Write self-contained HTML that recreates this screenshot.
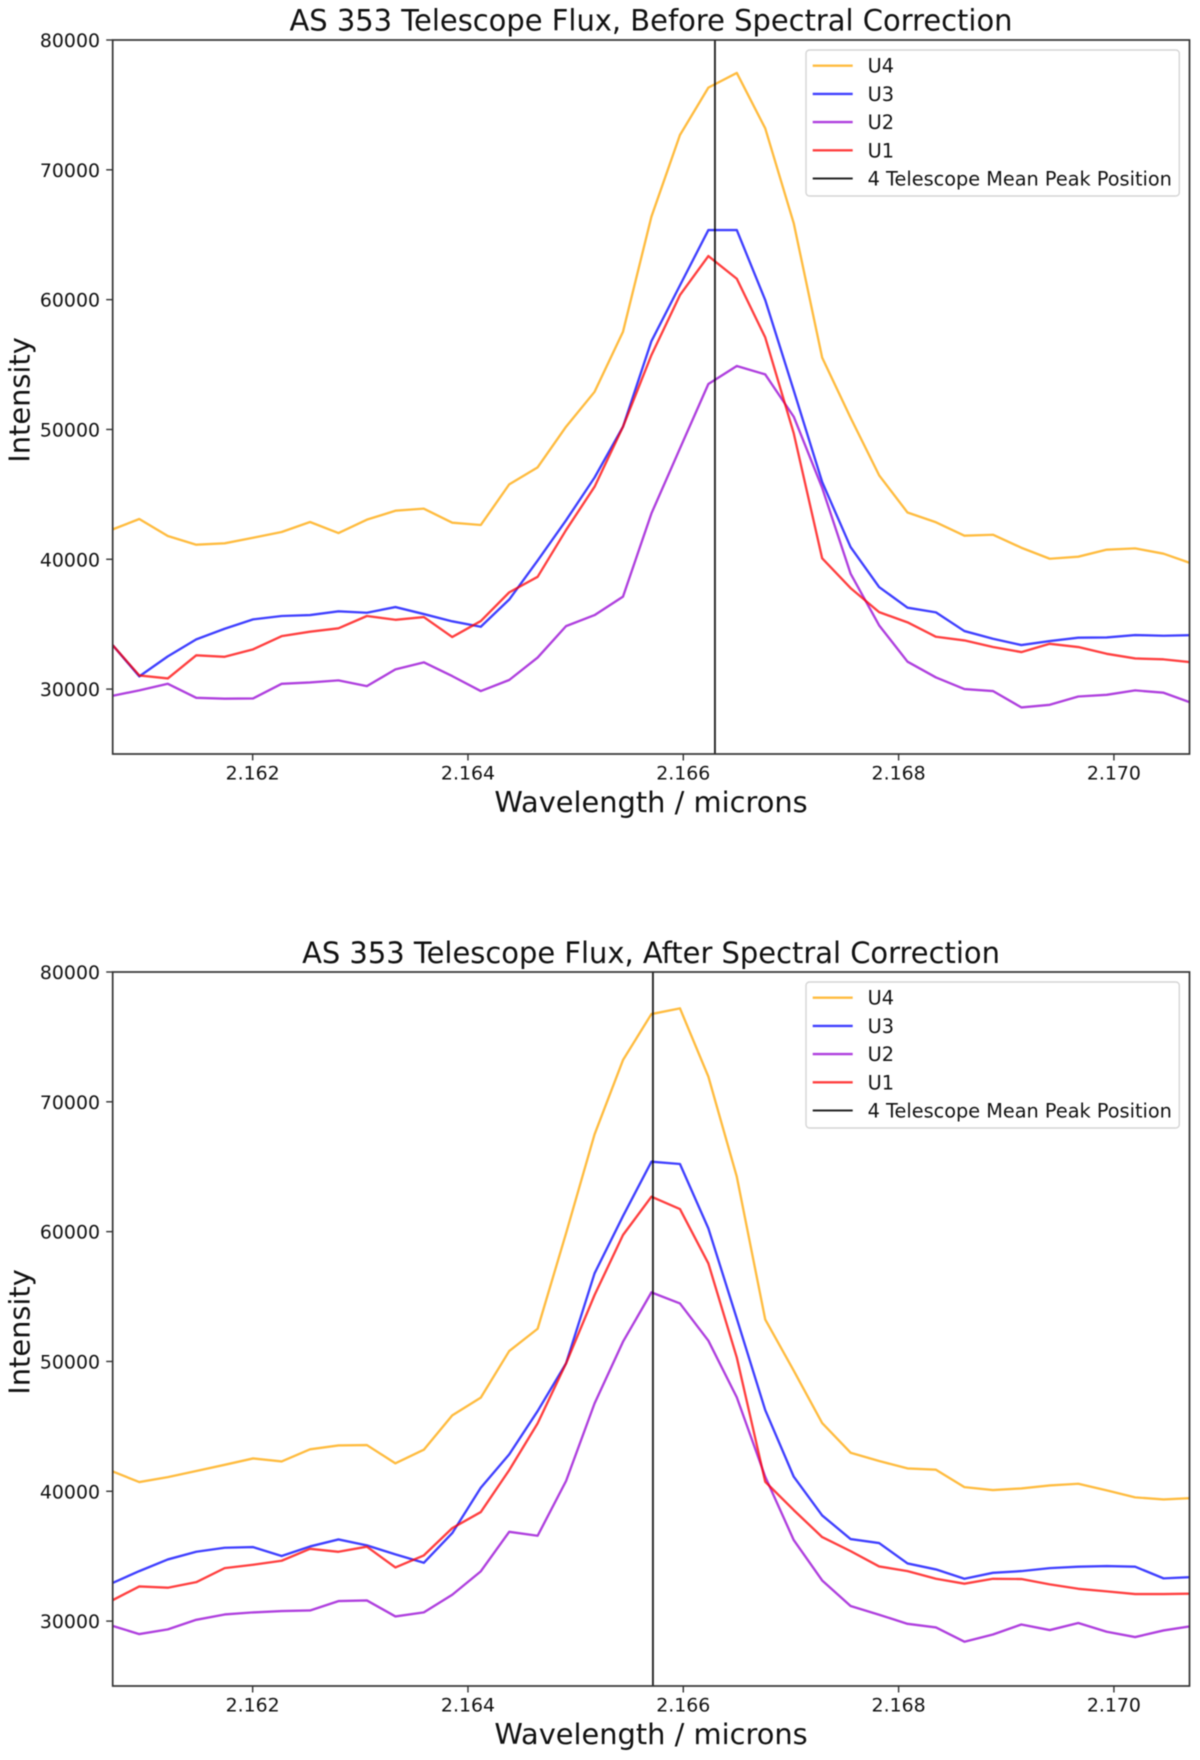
<!DOCTYPE html>
<html lang="en">
<head>
<meta charset="utf-8">
<title>AS 353 Telescope Flux</title>
<style>
  html, body { margin: 0; padding: 0; background: #fff; width: 1200px; height: 1760px; overflow: hidden; }
  svg { display: block; filter: blur(0.4px); }
  text { font-family: "DejaVu Sans", "Liberation Sans", sans-serif; fill: #111; }
</style>
</head>
<body>
<svg id="chart" xmlns="http://www.w3.org/2000/svg" width="1200" height="1760" viewBox="0 0 1200 1760"></svg>
<script>
const wavelengths = [2.160683,2.160947,2.161212,2.161476,2.161740,2.162004,2.162269,2.162533,2.162797,2.163061,2.163326,2.163590,2.163854,2.164119,2.164383,2.164647,2.164911,2.165176,2.165440,2.165704,2.165969,2.166233,2.166497,2.166761,2.167026,2.167290,2.167554,2.167819,2.168083,2.168347,2.168611,2.168876,2.169140,2.169404,2.169669,2.169933,2.170197,2.170461,2.170726];

const beforeU4 = [42250,43100,41790,41120,41230,41660,42100,42870,42020,43050,43740,43900,42820,42640,45770,47080,50210,52900,57530,66390,72680,76330,77460,73195,65880,55530,50900,46470,43600,42850,41820,41890,40890,40040,40200,40740,40840,40430,39660];
const beforeU3 = [33545,30980,32520,33830,34650,35370,35630,35700,35990,35880,36320,35780,35220,34800,36900,39900,43000,46300,50210,56800,61100,65360,65360,59970,53000,45950,40940,37860,36270,35910,34470,33880,33390,33700,33960,33980,34160,34110,34160];
const beforeU2 = [29460,29900,30410,29330,29260,29280,30410,30510,30670,30230,31520,32060,31000,29850,30700,32430,34850,35700,37120,43530,48540,53500,54890,54240,50980,45500,38890,34910,32110,30900,30000,29850,28590,28790,29430,29560,29900,29720,28920];
const beforeU1 = [33545,31050,30820,32600,32490,33060,34080,34420,34680,35630,35340,35550,34010,35240,37450,38650,42250,45590,50210,55730,60350,63360,61610,57090,49700,40070,37780,35930,35140,34030,33750,33240,32850,33490,33240,32720,32360,32290,32060];

const afterU4 = [41580,40710,41090,41560,42040,42530,42300,43230,43530,43560,42150,43200,45850,47210,50800,52520,59870,67500,73220,76760,77200,71940,64230,53240,49290,45250,42970,42330,41760,41660,40320,40090,40220,40450,40580,40070,39530,39370,39480];
const afterU3 = [32880,33850,34750,35340,35650,35700,35010,35750,36290,35830,35140,34490,36780,40270,42840,46180,49850,56790,61200,65390,65210,60250,53300,46256,41120,38140,36320,36010,34440,33980,33260,33720,33850,34080,34190,34240,34190,33290,33390];
const afterU2 = [29670,29000,29360,30100,30510,30670,30770,30820,31540,31590,30360,30670,32030,33830,36880,36575,40790,46770,51520,55320,54470,51600,47230,41120,36240,33130,31160,30490,29790,29510,28410,28970,29740,29310,29850,29180,28770,29280,29620];
const afterU1 = [31540,32670,32570,33000,34080,34340,34650,35570,35340,35730,34130,35060,37160,38400,41630,45230,49850,55120,59740,62690,61740,57550,50300,40735,38550,36470,35390,34210,33850,33260,32880,33260,33240,32830,32490,32290,32080,32080,32110];

const peakBefore = 2.166294;
const peakAfter = 2.165718;

const xTickValues = [2.162, 2.164, 2.166, 2.168, 2.170];
const xTickLabels = ["2.162", "2.164", "2.166", "2.168", "2.170"];
const yTickValues = [30000, 40000, 50000, 60000, 70000, 80000];
const yTickLabels = ["30000", "40000", "50000", "60000", "70000", "80000"];
const seriesNames = ["U4", "U3", "U2", "U1"];
const peakLegendLabel = "4 Telescope Mean Peak Position";
const titleBefore = "AS 353 Telescope Flux, Before Spectral Correction";
const titleAfter = "AS 353 Telescope Flux, After Spectral Correction";
const xDomain = [2.1607, 2.170702];
const yDomain = [25000, 80000];

const SVG_NS = "http://www.w3.org/2000/svg";
const root = document.getElementById("chart");
const seriesColors = ["rgb(255,165,0)", "rgb(0,0,255)", "rgb(148,0,211)", "rgb(255,0,0)"];
const LEFT = 112.7, RIGHT = 1189.5, PLOT_H = 714;

function make(tag, parent) {
  const el = document.createElementNS(SVG_NS, tag);
  parent.appendChild(el);
  return el;
}
function setAttrs(el, attrs) {
  for (const k in attrs) el.setAttribute(k, attrs[k]);
  return el;
}

function drawPanel(panelKey, top, titleOffset, title, peak, seriesList) {
  const g = make("g", root);
  
  

  const bottom = top + PLOT_H;
  const xScale = v => LEFT + (v - xDomain[0]) / (xDomain[1] - xDomain[0]) * (RIGHT - LEFT);
  const yScale = v => bottom - (v - yDomain[0]) / (yDomain[1] - yDomain[0]) * (bottom - top);

  const clip = make("clipPath", g);
  clip.setAttribute("id", "clip-" + panelKey);
  setAttrs(make("rect", clip), { x: LEFT, y: top, width: RIGHT - LEFT, height: bottom - top });

  const lines = make("g", g);
  
  
  lines.setAttribute("clip-path", "url(#clip-" + panelKey + ")");
  seriesList.forEach((values, s) => {
    const line = make("polyline", lines);
    
    
    const pts = values.map((v, i) => xScale(wavelengths[i]).toFixed(2) + "," + yScale(v).toFixed(2)).join(" ");
    setAttrs(line, { points: pts, fill: "none", stroke: seriesColors[s], "stroke-width": 2.35, "stroke-opacity": 0.75, "stroke-linejoin": "round" });
  });

  const peakLine = make("line", lines);
  
  
  setAttrs(peakLine, { x1: xScale(peak), x2: xScale(peak), y1: top, y2: bottom, stroke: "#000", "stroke-width": 1.9, "stroke-opacity": 0.85 });

  const frame = make("rect", g);
  
  
  setAttrs(frame, { x: LEFT, y: top, width: RIGHT - LEFT, height: bottom - top, fill: "none", stroke: "#333", "stroke-width": 1.7 });

  xTickValues.forEach((v, i) => {
    const tick = make("line", g);
    
    
    setAttrs(tick, { x1: xScale(v), x2: xScale(v), y1: bottom, y2: bottom + 6.5, stroke: "#333", "stroke-width": 1.4 });
    const label = make("text", g);
    
    
    setAttrs(label, { x: xScale(v), y: bottom + 25.7, "text-anchor": "middle", "font-size": 18.9 });
    label.textContent = xTickLabels[i];
  });

  yTickValues.forEach((v, i) => {
    const tick = make("line", g);
    
    
    setAttrs(tick, { x1: LEFT - 6.5, x2: LEFT, y1: yScale(v), y2: yScale(v), stroke: "#333", "stroke-width": 1.4 });
    const label = make("text", g);
    
    
    setAttrs(label, { x: 100, y: yScale(v) + 7, "text-anchor": "end", "font-size": 18.9 });
    label.textContent = yTickLabels[i];
  });

  const titleEl = make("text", g);
  
  
  setAttrs(titleEl, { x: 651, y: top - titleOffset, "text-anchor": "middle", "font-size": 28.95 });
  titleEl.textContent = title;

  const xTitle = make("text", g);
  
  
  setAttrs(xTitle, { x: 651, y: bottom + 58, "text-anchor": "middle", "font-size": 28.85 });
  xTitle.textContent = "Wavelength / microns";

  const yTitle = make("text", g);
  
  
  setAttrs(yTitle, { x: 0, y: 0, "text-anchor": "middle", "font-size": 28.85, transform: "translate(29.5," + (top + 360) + ") rotate(-90)" });
  yTitle.textContent = "Intensity";

  const legend = make("g", g);
  
  
  const legendBox = make("rect", legend);
  
  
  setAttrs(legendBox, { x: 806, y: top + 10, width: 373.3, height: 146, rx: 3.5, fill: "#fff", "fill-opacity": 0.8, stroke: "#d5d5d5", "stroke-width": 1.4 });

  const labels = seriesNames.concat([peakLegendLabel]);
  labels.forEach((name, i) => {
    const rowY = top + 25.7 + i * 28.2;
    const entry = make("g", legend);
    
    
    const swatch = make("line", entry);
    
    
    const isPeak = i === seriesNames.length;
    setAttrs(swatch, { x1: 812.7, x2: 852.7, y1: rowY, y2: rowY, stroke: isPeak ? "#000" : seriesColors[i], "stroke-width": isPeak ? 1.9 : 2.35, "stroke-opacity": isPeak ? 0.85 : 0.75 });
    const label = make("text", entry);
    
    
    setAttrs(label, { x: 867.6, y: rowY + 7, "font-size": 19.3 });
    label.textContent = name;
  });
}

drawPanel("before", 40, 9.5, titleBefore, peakBefore, [beforeU4, beforeU3, beforeU2, beforeU1]);
drawPanel("after", 972, 8.8, titleAfter, peakAfter, [afterU4, afterU3, afterU2, afterU1]);
</script>
</body>
</html>
